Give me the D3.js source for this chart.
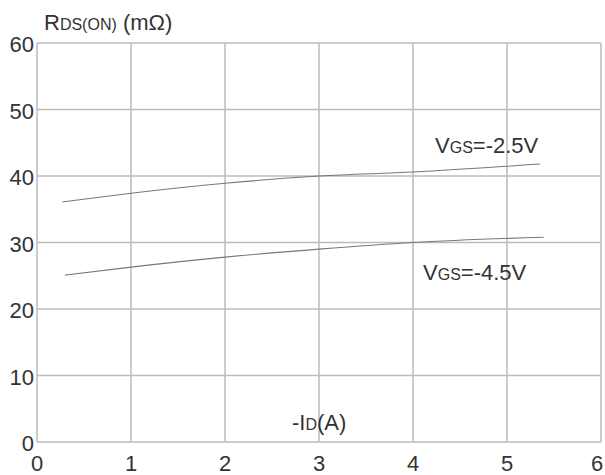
<!DOCTYPE html>
<html>
<head>
<meta charset="utf-8">
<script src="https://cdn.jsdelivr.net/npm/d3@7"></script>
<style>
  body { margin: 0; background: #fff; }
  text { font-family: "Liberation Sans", Arial, sans-serif; fill: #333; }
</style>
</head>
<body>
<div id="chart"></div>
<script>
    var width = 605;
    var height = 475;

    // values: -ID in A, RDS(on) in mOhm
    var xTicks = [0, 1, 2, 3, 4, 5, 6];
    var yTicks = [0, 10, 20, 30, 40, 50, 60];
    var vgs25_x = [0.27, 1, 2, 3, 4, 5.35];
    var vgs25_y = [36.1, 37.4, 38.9, 40.0, 40.6, 41.8];
    var vgs45_x = [0.3, 1, 2, 3, 4, 5.39];
    var vgs45_y = [25.1, 26.3, 27.8, 29.0, 30.0, 30.8];

    // plot frame, measured in pixels from the reference
    // (not "top": that name is taken by window.top)
    var plotLeft = 37, plotRight = 601, plotTop = 43, plotBottom = 442;

    var x = d3.scaleLinear().domain([0, 6]).range([plotLeft, plotRight]);
    var y = d3.scaleLinear().domain([0, 60]).range([plotBottom, plotTop]);

    var svg = d3.select("#chart")
                .append("svg")
                .attr("width", width)
                .attr("height", height);

    // grid
    svg.append("g").selectAll("line").data(xTicks).enter().append("line")
       .attr("x1", d => x(d)).attr("x2", d => x(d))
       .attr("y1", plotTop).attr("y2", plotBottom)
       .attr("stroke", "#bbb").attr("stroke-width", 1.5);
    svg.append("g").selectAll("line").data(yTicks).enter().append("line")
       .attr("x1", plotLeft).attr("x2", plotRight)
       .attr("y1", d => y(d)).attr("y2", d => y(d))
       .attr("stroke", "#bbb").attr("stroke-width", 1.5);

    // tick labels
    svg.append("g").selectAll("text").data(xTicks).enter().append("text")
       .attr("x", d => x(d) + (d == 6 ? -4 : 0))
       .attr("y", 471)
       .attr("text-anchor", "middle")
       .attr("font-size", 22)
       .text(d => d);
    svg.append("g").selectAll("text").data(yTicks).enter().append("text")
       .attr("x", 34)
       .attr("y", d => y(d) + 9)
       .attr("text-anchor", "end")
       .attr("font-size", 22)
       .text(d => d);

    // curves
    var line = d3.line().x(d => x(d[0])).y(d => y(d[1])).curve(d3.curveMonotoneX);
    var drawcurve = function(xs, ys) {
       svg.append("path")
          .datum(xs.map((v, i) => [v, ys[i]]))
          .attr("d", line)
          .attr("fill", "none")
          .attr("stroke", "#777")
          .attr("stroke-width", 1.1);
    }
    drawcurve(vgs25_x, vgs25_y);
    drawcurve(vgs45_x, vgs45_y);

    // text with a small subscript part on the same baseline
    var addlabel = function(px, py, parts) {
       var t = svg.append("text").attr("x", px).attr("y", py);
       parts.forEach(function(p) {
          t.append("tspan").attr("font-size", p[1]).text(p[0]);
       });
    }
    addlabel(44, 30, [["R", 22], ["DS(ON)", 16], [" (m\u03A9)", 22]]);
    addlabel(292, 430, [["-I", 22], ["D", 16], ["(A)", 22]]);
    addlabel(435, 153, [["V", 22], ["GS", 16], ["=-2.5V", 22]]);
    addlabel(423, 280, [["V", 22], ["GS", 16], ["=-4.5V", 22]]);
</script>
</body>
</html>
